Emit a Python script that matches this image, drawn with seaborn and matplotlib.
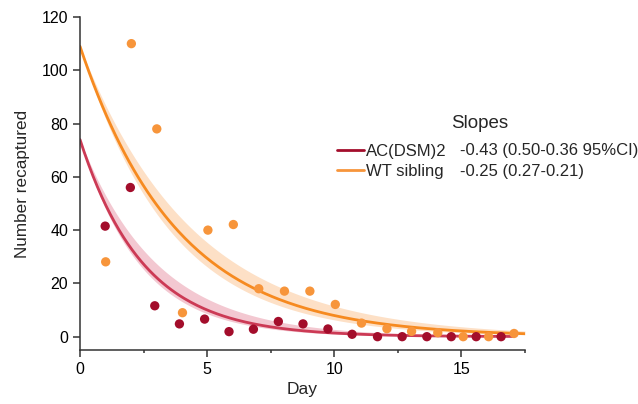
import numpy as np
import pandas as pd
import matplotlib
matplotlib.use("Agg")
import matplotlib.pyplot as plt
from matplotlib.lines import Line2D
from matplotlib.ticker import MultipleLocator
import seaborn as sns

# recapture counts
ac_day = [0.99, 1.98, 2.94, 3.91, 4.90, 5.86, 6.82, 7.80, 8.77, 9.75,
          10.70, 11.70, 12.67, 13.64, 14.60, 15.58, 16.56]
ac_count = [41.5, 56, 11.6, 4.8, 6.6, 1.9, 2.8, 5.7, 4.8, 2.9,
            0.9, 0, 0, 0, 0, 0, 0]
wt_day = [1.01, 2.02, 3.02, 4.03, 5.03, 6.03, 7.03, 8.04, 9.04, 10.04,
          11.07, 12.07, 13.04, 14.07, 15.07, 16.07, 17.07]
wt_count = [28.1, 110, 78, 9, 40, 42.1, 18, 17.1, 17.1, 12.1,
            5.1, 3, 2, 1.5, 0, 0, 1.2]

groups = ["AC(DSM)2", "WT sibling"]
slope_text = ["-0.43 (0.50-0.36 95%CI)", "-0.25 (0.27-0.21)"]

# one-phase decay fits (y0, k, k band low, k band high, last day drawn)
ac_fit = (74, 0.40, 0.33, 0.43, 17.0)
wt_fit = (109, 0.262, 0.225, 0.285, 17.5)

dot_col = {"AC(DSM)2": "#a30d2b", "WT sibling": "#f7953b"}
line_col = {"AC(DSM)2": "#cc3a55", "WT sibling": "#f68a20"}
band_col = {"AC(DSM)2": "#f3c8d1", "WT sibling": "#fde0c6"}

pts = pd.concat([
    pd.DataFrame({"day": ac_day, "count": ac_count, "group": groups[0]}),
    pd.DataFrame({"day": wt_day, "count": wt_count, "group": groups[1]}),
])

curves = []
for g, (y0, k, klo, khi, xend) in zip(groups, [ac_fit, wt_fit]):
    xs = np.linspace(0, xend, 200)
    curves.append(pd.DataFrame({"day": xs, "fit": y0 * np.exp(-k * xs),
                                "hi": y0 * np.exp(-klo * xs),
                                "lo": y0 * np.exp(-khi * xs), "group": g}))
curves = pd.concat(curves)

sns.set_style("ticks")
plt.rcParams["font.family"] = ["Liberation Sans", "DejaVu Sans"]

fig = plt.figure(figsize=(6.38, 4.04), dpi=100)
ax = fig.add_axes([80 / 638, 1 - 350 / 404, 445 / 638, 333 / 404])

for g in groups:
    c = curves[curves.group == g]
    ax.fill_between(c.day, c.lo, c.hi, color=band_col[g], lw=0, zorder=1)
sns.lineplot(data=curves, x="day", y="fit", hue="group", palette=line_col,
             lw=2, legend=False, ax=ax, zorder=2)
sns.scatterplot(data=pts, x="day", y="count", hue="group", palette=dot_col,
                s=45, edgecolor="none", legend=False, ax=ax, zorder=3)

ax.set_xlim(0, 17.5)
ax.set_ylim(-5, 120)
ax.xaxis.set_major_locator(MultipleLocator(5))
ax.xaxis.set_minor_locator(MultipleLocator(2.5))
ax.yaxis.set_major_locator(MultipleLocator(20))
ax.tick_params(which="both", direction="out", colors="#333333", labelcolor="black",
               width=1.1, labelsize=11.5)
ax.tick_params(which="major", length=5)
ax.tick_params(which="minor", length=2.5)
for s in ["left", "bottom"]:
    ax.spines[s].set_color("#333333")
    ax.spines[s].set_linewidth(1.1)
sns.despine(ax=ax)
ax.set_xlabel("Day", fontsize=12.5)
ax.set_ylabel("Number recaptured", fontsize=12.3, labelpad=8)

handles = [Line2D([], [], color=dot_col[g], lw=2) for g in groups]
ax.legend(handles, groups, loc="upper left", frameon=False, fontsize=12,
          bbox_to_anchor=(337 / 638, 1 - 144 / 404), bbox_transform=fig.transFigure,
          borderpad=0, borderaxespad=0, handlelength=1.6, handletextpad=0.12,
          labelspacing=0.3)
fig.text(480 / 638, 1 - 124 / 404, "Slopes", fontsize=13.5, ha="center", va="center")
for i, t in enumerate(slope_text):
    fig.text(460 / 638, 1 - (150 + 22 * i) / 404, t, fontsize=12, va="center")

fig.savefig("out.png", dpi=100)
